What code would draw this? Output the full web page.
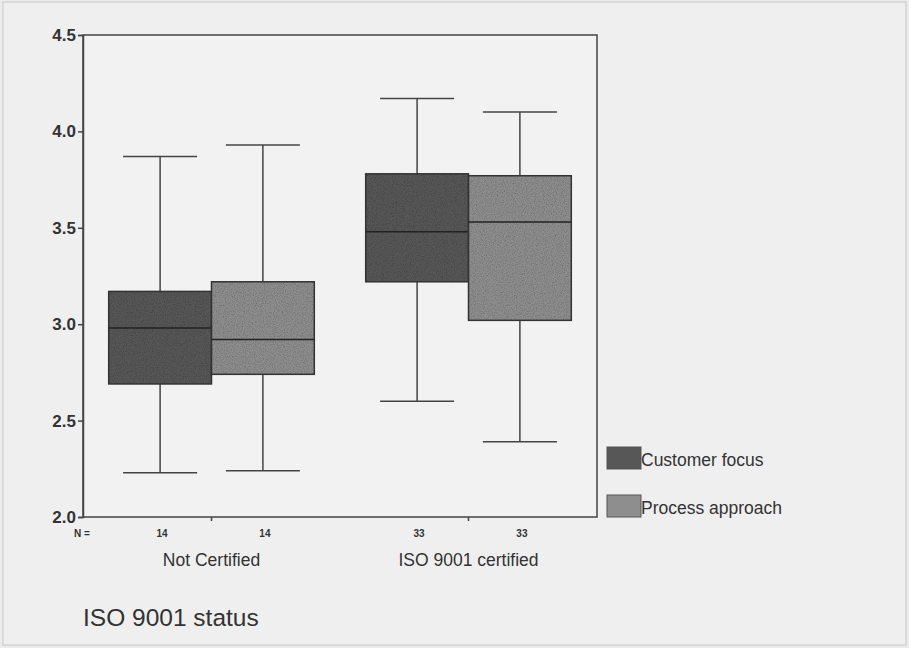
<!DOCTYPE html>
<html>
<head>
<meta charset="utf-8">
<script src="https://cdn.jsdelivr.net/npm/d3@7"></script>
<style>
  body { margin: 0; background: #ebebeb; }
  text { font-family: "Liberation Sans", Arial, sans-serif; fill: #333; }
</style>
</head>
<body>
<script>
const width = 909;
const height = 648;

// data
const groups = ["Not Certified", "ISO 9001 certified"];
const series = ["Customer focus", "Process approach"];
const counts = [[14, 14], [33, 33]];
// [min, q1, median, q3, max] per group, per series
const customerFocus = [
  [2.23, 2.69, 2.98, 3.17, 3.87],
  [2.60, 3.22, 3.48, 3.78, 4.17]
];
const processApproach = [
  [2.24, 2.74, 2.92, 3.22, 3.93],
  [2.39, 3.02, 3.53, 3.77, 4.10]
];
const yTicks = [2.0, 2.5, 3.0, 3.5, 4.0, 4.5];
const colors = ["#575757", "#8e8e8e"];

const margin = { left: 83, right: 312, top: 35, bottom: 131 };

const svg = d3
  .select("body")
  .append("svg")
  .attr("width", width)
  .attr("height", height);

// grain, the boxes in the scan are noisy
const filter = svg
  .append("defs")
  .append("filter")
  .attr("id", "grain")
  .attr("x", 0)
  .attr("y", 0)
  .attr("width", 1)
  .attr("height", 1);
filter
  .append("feTurbulence")
  .attr("type", "fractalNoise")
  .attr("baseFrequency", 0.9)
  .attr("numOctaves", 2)
  .attr("result", "noise");
filter
  .append("feColorMatrix")
  .attr("in", "noise")
  .attr("type", "matrix")
  .attr("values", "0 0 0 0 0  0 0 0 0 0  0 0 0 0 0  0 0 0 -0.9 0.55")
  .attr("result", "dots");
filter
  .append("feComposite")
  .attr("in", "dots")
  .attr("in2", "SourceGraphic")
  .attr("operator", "atop");

// page frame
svg
  .append("rect")
  .attr("x", 3)
  .attr("y", 2)
  .attr("width", width - 6)
  .attr("height", height - 5)
  .attr("fill", "#efefef")
  .attr("stroke", "#c8c8c8");

const y = d3
  .scaleLinear()
  .domain([2.0, 4.5])
  .range([height - margin.bottom, margin.top]);

const x = d3
  .scaleBand()
  .domain(groups)
  .range([margin.left, width - margin.right]);

const xInner = d3
  .scaleBand()
  .domain(series)
  .range([0, x.bandwidth()])
  .paddingOuter(0.25);

// plot frame
svg
  .append("rect")
  .attr("x", margin.left)
  .attr("y", margin.top)
  .attr("width", width - margin.left - margin.right)
  .attr("height", height - margin.top - margin.bottom)
  .attr("fill", "#f2f2f2")
  .attr("stroke", "#444")
  .attr("stroke-width", 1.5);

// y axis
const yAxis = svg
  .append("g")
  .attr("transform", `translate(${margin.left},0)`)
  .call(
    d3
      .axisLeft(y)
      .tickValues(yTicks)
      .tickFormat(d3.format(".1f"))
      .tickSize(5)
  );
yAxis.select(".domain").attr("stroke", "#444").attr("stroke-width", 1.5);
yAxis.selectAll(".tick line").attr("stroke", "#444").attr("stroke-width", 1.5);
yAxis
  .selectAll(".tick text")
  .attr("font-size", 17)
  .attr("font-weight", "bold")
  .attr("fill", "#3a3a3a")
  .attr("x", -7);

// small tick between the two series in each group
groups.forEach(g => {
  const cx = x(g) + xInner(series[1]);
  svg
    .append("line")
    .attr("x1", cx)
    .attr("x2", cx)
    .attr("y1", y(2.0))
    .attr("y2", y(2.0) + 4)
    .attr("stroke", "#444")
    .attr("stroke-width", 1.5);
});

const allStats = [customerFocus, processApproach];

groups.forEach((g, gi) => {
  series.forEach((s, si) => {
    const [mn, q1, med, q3, mx] = allStats[si][gi];
    const x0 = x(g) + xInner(s);
    const bw = xInner.bandwidth();
    const cx = x0 + bw / 2;
    const capW = bw * 0.72;
    const box = svg.append("g").attr("class", "box");

    box
      .append("line")
      .attr("x1", cx)
      .attr("x2", cx)
      .attr("y1", y(mx))
      .attr("y2", y(mn))
      .attr("stroke", "#444")
      .attr("stroke-width", 1.5);

    [mn, mx].forEach(v => {
      box
        .append("line")
        .attr("x1", cx - capW / 2)
        .attr("x2", cx + capW / 2)
        .attr("y1", y(v))
        .attr("y2", y(v))
        .attr("stroke", "#444")
        .attr("stroke-width", 1.5);
    });

    box
      .append("rect")
      .attr("x", x0)
      .attr("y", y(q3))
      .attr("width", bw)
      .attr("height", y(q1) - y(q3))
      .attr("fill", colors[si])
      .attr("filter", "url(#grain)");

    box
      .append("rect")
      .attr("x", x0)
      .attr("y", y(q3))
      .attr("width", bw)
      .attr("height", y(q1) - y(q3))
      .attr("fill", "none")
      .attr("stroke", "#333")
      .attr("stroke-width", 1.5);

    box
      .append("line")
      .attr("x1", x0)
      .attr("x2", x0 + bw)
      .attr("y1", y(med))
      .attr("y2", y(med))
      .attr("stroke", "#222")
      .attr("stroke-width", 1.5);

    svg
      .append("text")
      .attr("x", cx + 2)
      .attr("y", y(2.0) + 20)
      .attr("text-anchor", "middle")
      .attr("font-size", 10)
      .attr("font-weight", "bold")
      .attr("fill", "#444")
      .text(counts[gi][si]);
  });

  svg
    .append("text")
    .attr("x", x(g) + x.bandwidth() / 2)
    .attr("y", y(2.0) + 49)
    .attr("text-anchor", "middle")
    .attr("font-size", 17.5)
    .text(g);
});

svg
  .append("text")
  .attr("x", margin.left - 1)
  .attr("y", y(2.0) + 20)
  .attr("text-anchor", "middle")
  .attr("font-size", 10)
  .attr("font-weight", "bold")
  .attr("fill", "#444")
  .text("N =");

svg
  .append("text")
  .attr("x", 83)
  .attr("y", 626)
  .attr("font-size", 24.5)
  .attr("fill", "#2a2a2a")
  .text("ISO 9001 status");

// legend
const legend = svg
  .append("g")
  .attr("transform", `translate(607,447)`);

series.forEach((s, i) => {
  const row = legend.append("g").attr("transform", `translate(0,${i * 48})`);
  row
    .append("rect")
    .attr("width", 34)
    .attr("height", 22)
    .attr("fill", colors[i])
    .attr("stroke", "#555");
  row
    .append("text")
    .attr("x", 34)
    .attr("y", 19)
    .attr("font-size", 17.5)
    .text(s);
});
</script>
</body>
</html>
